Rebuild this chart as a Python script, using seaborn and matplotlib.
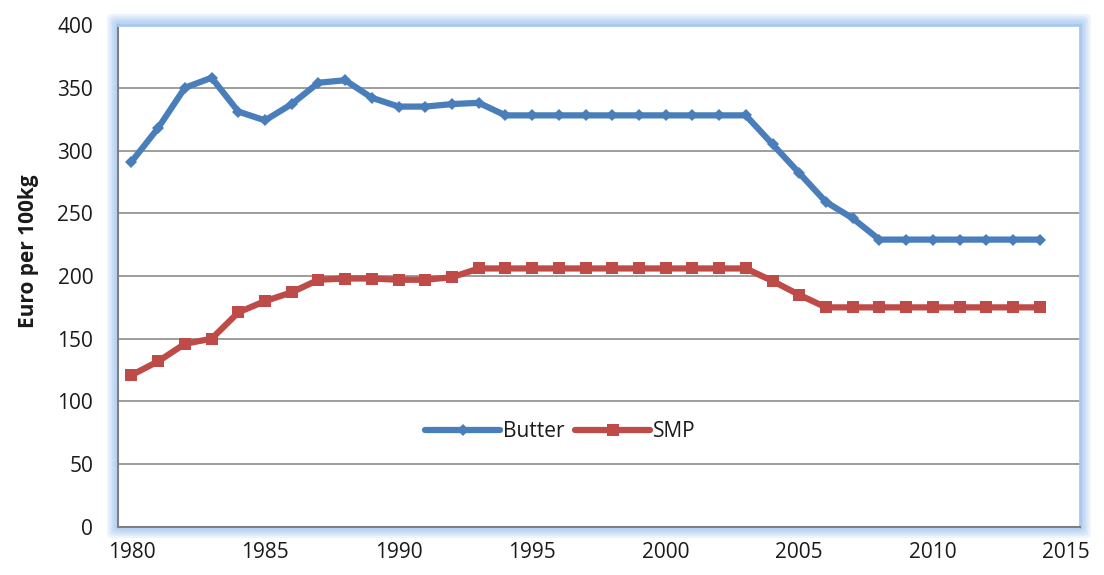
import numpy as np
import pandas as pd
import matplotlib
matplotlib.use('Agg')
import matplotlib.pyplot as plt
from matplotlib.patches import FancyBboxPatch
import seaborn as sns

# =================================================================
years = list(range(1980, 2015))
butter = [291, 318, 350, 358, 331, 324, 337, 354, 356, 342,
          335, 335, 337, 338, 328, 328, 328, 328, 328, 328,
          328, 328, 328, 328, 305, 282, 259, 246, 229, 229,
          229, 229, 229, 229, 229]
smp = [121, 132, 146, 150, 171, 180, 187, 197, 198, 198,
       197, 197, 199, 206, 206, 206, 206, 206, 206, 206,
       206, 206, 206, 206, 196, 185, 175, 175, 175, 175,
       175, 175, 175, 175, 175]
xlabels = ['1980', '1985', '1990', '1995', '2000', '2005', '2010', '2015']
yticks = [0, 50, 100, 150, 200, 250, 300, 350, 400]

df = pd.DataFrame({'year': years, 'Butter': butter, 'SMP': smp})

sns.set_style('white')
plt.rcParams['font.family'] = ['Open Sans', 'DejaVu Sans']

fig = plt.figure(figsize=(11.04, 5.75), dpi=100)
ax = fig.add_axes([0.107, 0.0835, 0.871, 0.873])

# soft blue glow behind the plot area (a few layered boxes)
x0, y0, w, h = 0.107, 0.0835, 0.871, 0.873
for i, a in enumerate([0.25, 0.35, 0.5, 0.7]):
    d = 0.010 - i * 0.0022
    dy = d * 1104 / 575
    fig.patches.append(FancyBboxPatch((x0 - d, y0 - dy), w + 2 * d, h + 2 * dy,
                                      boxstyle='round,pad=0.0,rounding_size=0.006',
                                      transform=fig.transFigure, facecolor='#b7d2f3',
                                      alpha=a, edgecolor='none', zorder=-2))
ax.set_facecolor('white')

sns.lineplot(data=df, x='year', y='Butter', ax=ax, color='#4a7ebb', lw=4.5,
             marker='D', markersize=6, markeredgewidth=0, label='Butter')
sns.lineplot(data=df, x='year', y='SMP', ax=ax, color='#be4b48', lw=4.5,
             marker='s', markersize=9, markeredgewidth=0, label='SMP')

ax.set_xlim(1979.5, 2015.5)
ax.set_ylim(0, 400)
ax.set_yticks(yticks)
ax.yaxis.grid(True, color='#8c8c8c', lw=1.2)
ax.set_axisbelow(True)

ax.set_xticks([int(s) for s in xlabels])
ax.set_xticklabels(xlabels)
ax.set_xticks(np.arange(1979.5, 2016, 1), minor=True)
ax.tick_params(axis='x', which='major', length=0, labelsize=15, pad=11, colors='#1a1a1a')
ax.tick_params(axis='x', which='minor', length=5, width=1.2, color='#7f7f7f', direction='out')
ax.tick_params(axis='y', length=5, width=1.2, color='#7f7f7f', labelsize=15, colors='#1a1a1a', pad=13)

for s in ['left', 'bottom']:
    ax.spines[s].set_color('#7f7f7f')
    ax.spines[s].set_linewidth(1.5)
for s in ['top', 'right']:
    ax.spines[s].set_color('#a9c8ee')
    ax.spines[s].set_linewidth(2)

ax.set_xlabel('')
ax.set_ylabel('Euro per 100kg', fontsize=15, fontweight='bold', labelpad=8, color='#1a1a1a')
ax.yaxis.set_label_coords(-0.082, 0.55)

ax.legend(loc='center', bbox_to_anchor=(0.46, 0.19), ncol=2, frameon=False,
          fontsize=15, handlelength=3.6, handletextpad=0.15, columnspacing=0.5,
          labelcolor='#1a1a1a')

fig.savefig('out.png', dpi=100)
